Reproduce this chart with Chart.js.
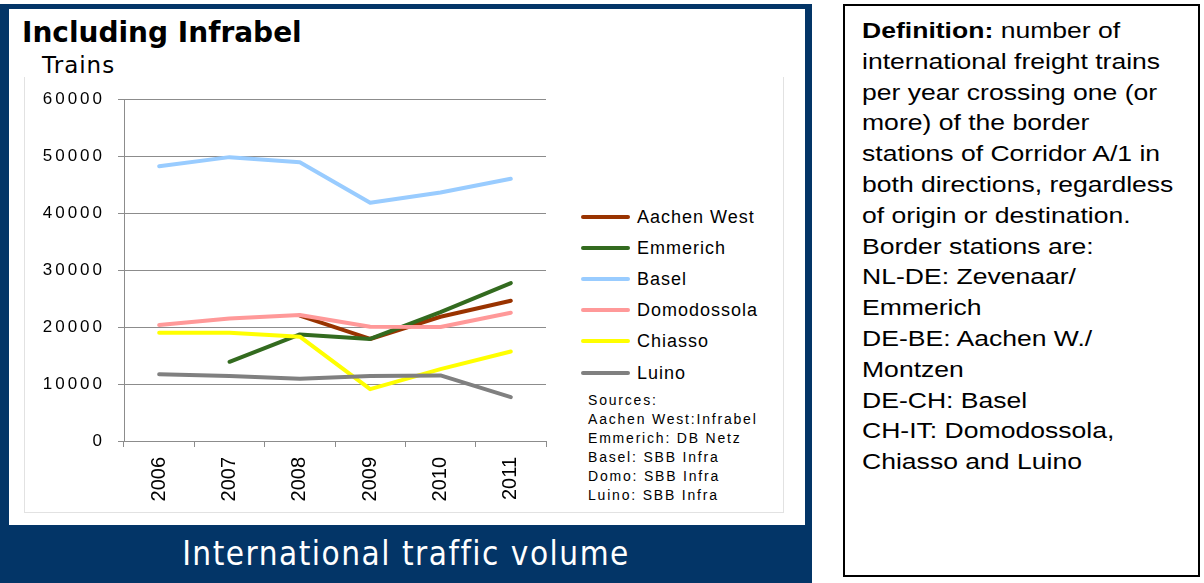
<!DOCTYPE html>
<html>
<head>
<meta charset="utf-8">
<script src="https://cdn.jsdelivr.net/npm/chart.js@4"></script>
<style>
  body { margin: 0; width: 1204px; height: 583px; background: #fff; position: relative; overflow: hidden; font-family: "Liberation Sans", Arial, sans-serif; }
  .frame { position: absolute; left: 0; top: 4px; width: 812px; height: 579px; background: #033567; }
  .panel { position: absolute; left: 9px; top: 9px; width: 796px; height: 516px; background: #fff; }
  .objbox { position: absolute; left: 24px; top: 77px; width: 758px; height: 435px; border-left: 1px solid #e2e2e2; border-right: 1px solid #e2e2e2; border-bottom: 1px solid #e2e2e2; }
  .title { position: absolute; left: 22px; top: 19px; font: bold 28px "DejaVu Sans", sans-serif; line-height: 28px; color: #000; white-space: nowrap; }
  .unit { position: absolute; left: 42px; top: 54px; font: 23px "DejaVu Sans", sans-serif; line-height: 23px; letter-spacing: 1px; color: #000; }
  #wrap { position: absolute; left: 0; top: 0; width: 560px; height: 520px; }
  .legend { position: absolute; left: 581px; top: 0; }
  .legend .row { position: absolute; left: 0; height: 20px; white-space: nowrap; }
  .legend .swatch { position: absolute; left: 0; top: 8px; width: 49px; height: 4px; border-radius: 2px; }
  .legend .lab { position: absolute; left: 56px; top: 0; font-size: 18px; line-height: 20px; letter-spacing: 1px; color: #000; }
  .sources { position: absolute; left: 588px; top: 391px; font-size: 14px; line-height: 19px; letter-spacing: 1.8px; color: #000; white-space: nowrap; }
  .banner { position: absolute; left: 0; top: 525px; width: 812px; height: 58px; text-align: center; color: #fff; font: 33px "DejaVu Sans Condensed", "DejaVu Sans", sans-serif; letter-spacing: 1.5px; line-height: 58px; }
  .defbox { position: absolute; left: 843px; top: 4px; width: 353px; height: 569px; border: 2px solid #000; }
  .deftext { position: absolute; left: 17px; top: 10px; font-size: 22.5px; line-height: 30.8px; color: #000; white-space: nowrap; transform: scaleX(1.18); transform-origin: left top; }
</style>
</head>
<body>
<div class="frame"></div>
<div class="panel"></div>
<div class="objbox"></div>
<div class="title">Including Infrabel</div>
<div class="unit">Trains</div>
<div id="wrap"><canvas id="chart"></canvas></div>
<div class="legend" id="legend"></div>
<div class="sources">Sources:<br>Aachen West:Infrabel<br>Emmerich: DB Netz<br>Basel: SBB Infra<br>Domo: SBB Infra<br>Luino: SBB Infra</div>
<div class="banner">International traffic volume</div>
<div class="defbox">
  <div class="deftext"><b>Definition:</b> number of<br>international freight trains<br>per year crossing one (or<br>more) of the border<br>stations of Corridor A/1 in<br>both directions, regardless<br>of origin or destination.<br>Border stations are:<br>NL-DE: Zevenaar/<br>Emmerich<br>DE-BE: Aachen W./<br>Montzen<br>DE-CH: Basel<br>CH-IT: Domodossola,<br>Chiasso and Luino</div>
</div>
<script>
const years = ['2006', '2007', '2008', '2009', '2010', '2011'];
const seriesNames = ['Aachen West', 'Emmerich', 'Basel', 'Domodossola', 'Chiasso', 'Luino'];
const seriesColors = ['#993300', '#336b1f', '#99ccff', '#ff9999', '#ffff00', '#808080'];

const aachenWest = [null, null, 22000, 17900, 21800, 24600];
const emmerich = [null, 13900, 18700, 17900, 22600, 27700];
const basel = [48200, 49800, 48900, 41800, 43600, 46000];
const domodossola = [20350, 21500, 22100, 20050, 20000, 22500];
const chiasso = [19000, 19000, 18300, 9100, 12600, 15700];
const luino = [11700, 11400, 10900, 11400, 11500, 7700];

const yTicks = [0, 10000, 20000, 30000, 40000, 50000, 60000];

const values = [aachenWest, emmerich, basel, domodossola, chiasso, luino];

// legend rows, built from the same names/colours as the datasets
const legend = document.getElementById('legend');
seriesNames.forEach((name, i) => {
  const row = document.createElement('div');
  row.className = 'row';
  row.style.top = (207 + i * 31.1) + 'px';
  row.innerHTML = '<span class="swatch" style="background:' + seriesColors[i] + '"></span><span class="lab">' + name + '</span>';
  legend.appendChild(row);
});

// y tick labels in the picture are widely spaced
const spacedTicks = {
  id: 'spacedTicks',
  beforeDraw(chart) {
    const y = chart.scales.y;
    if (y._spaced) return;
    const orig = y.drawLabels;
    y.drawLabels = function (area) {
      const c = this.ctx;
      c.save();
      c.letterSpacing = '3px';
      orig.call(this, area);
      c.restore();
    };
    y._spaced = true;
  }
};

const gridColor = '#8c8c8c';

new Chart(document.getElementById('chart'), {
  type: 'line',
  data: {
    labels: years,
    datasets: seriesNames.map((name, i) => ({
      label: name,
      data: values[i],
      borderColor: seriesColors[i],
      backgroundColor: seriesColors[i],
      borderWidth: 4,
      pointRadius: 0,
      pointHoverRadius: 0,
      tension: 0,
      borderCapStyle: 'round',
      borderJoinStyle: 'round',
      spanGaps: false,
      order: seriesNames.length - i
    }))
  },
  options: {
    responsive: true,
    maintainAspectRatio: false,
    animation: false,
    events: [],
    layout: { padding: { left: 0, top: 99, right: 14, bottom: 9 } },
    plugins: {
      legend: { display: false },
      tooltip: { enabled: false }
    },
    scales: {
      x: {
        offset: true,
        grid: { offset: true, drawOnChartArea: false, drawTicks: true, tickLength: 6, color: gridColor },
        border: { color: gridColor, width: 1 },
        ticks: {
          color: '#000',
          font: { family: 'Liberation Sans', size: 20 },
          minRotation: 90,
          maxRotation: 90,
          padding: 10
        },
        afterFit(scale) { scale.height = 70; }
      },
      y: {
        min: 0,
        max: 60000,
        afterBuildTicks(scale) { scale.ticks = yTicks.map(v => ({ value: v })); },
        grid: { color: gridColor, tickLength: 6, drawTicks: true },
        border: { color: gridColor, width: 1 },
        ticks: {
          color: '#000',
          font: { family: 'Liberation Sans', size: 17 },
          padding: 13,
          callback: v => String(v)
        },
        afterFit(scale) { scale.width = 124; }
      }
    }
  },
  plugins: [spacedTicks]
});
</script>
</body>
</html>
